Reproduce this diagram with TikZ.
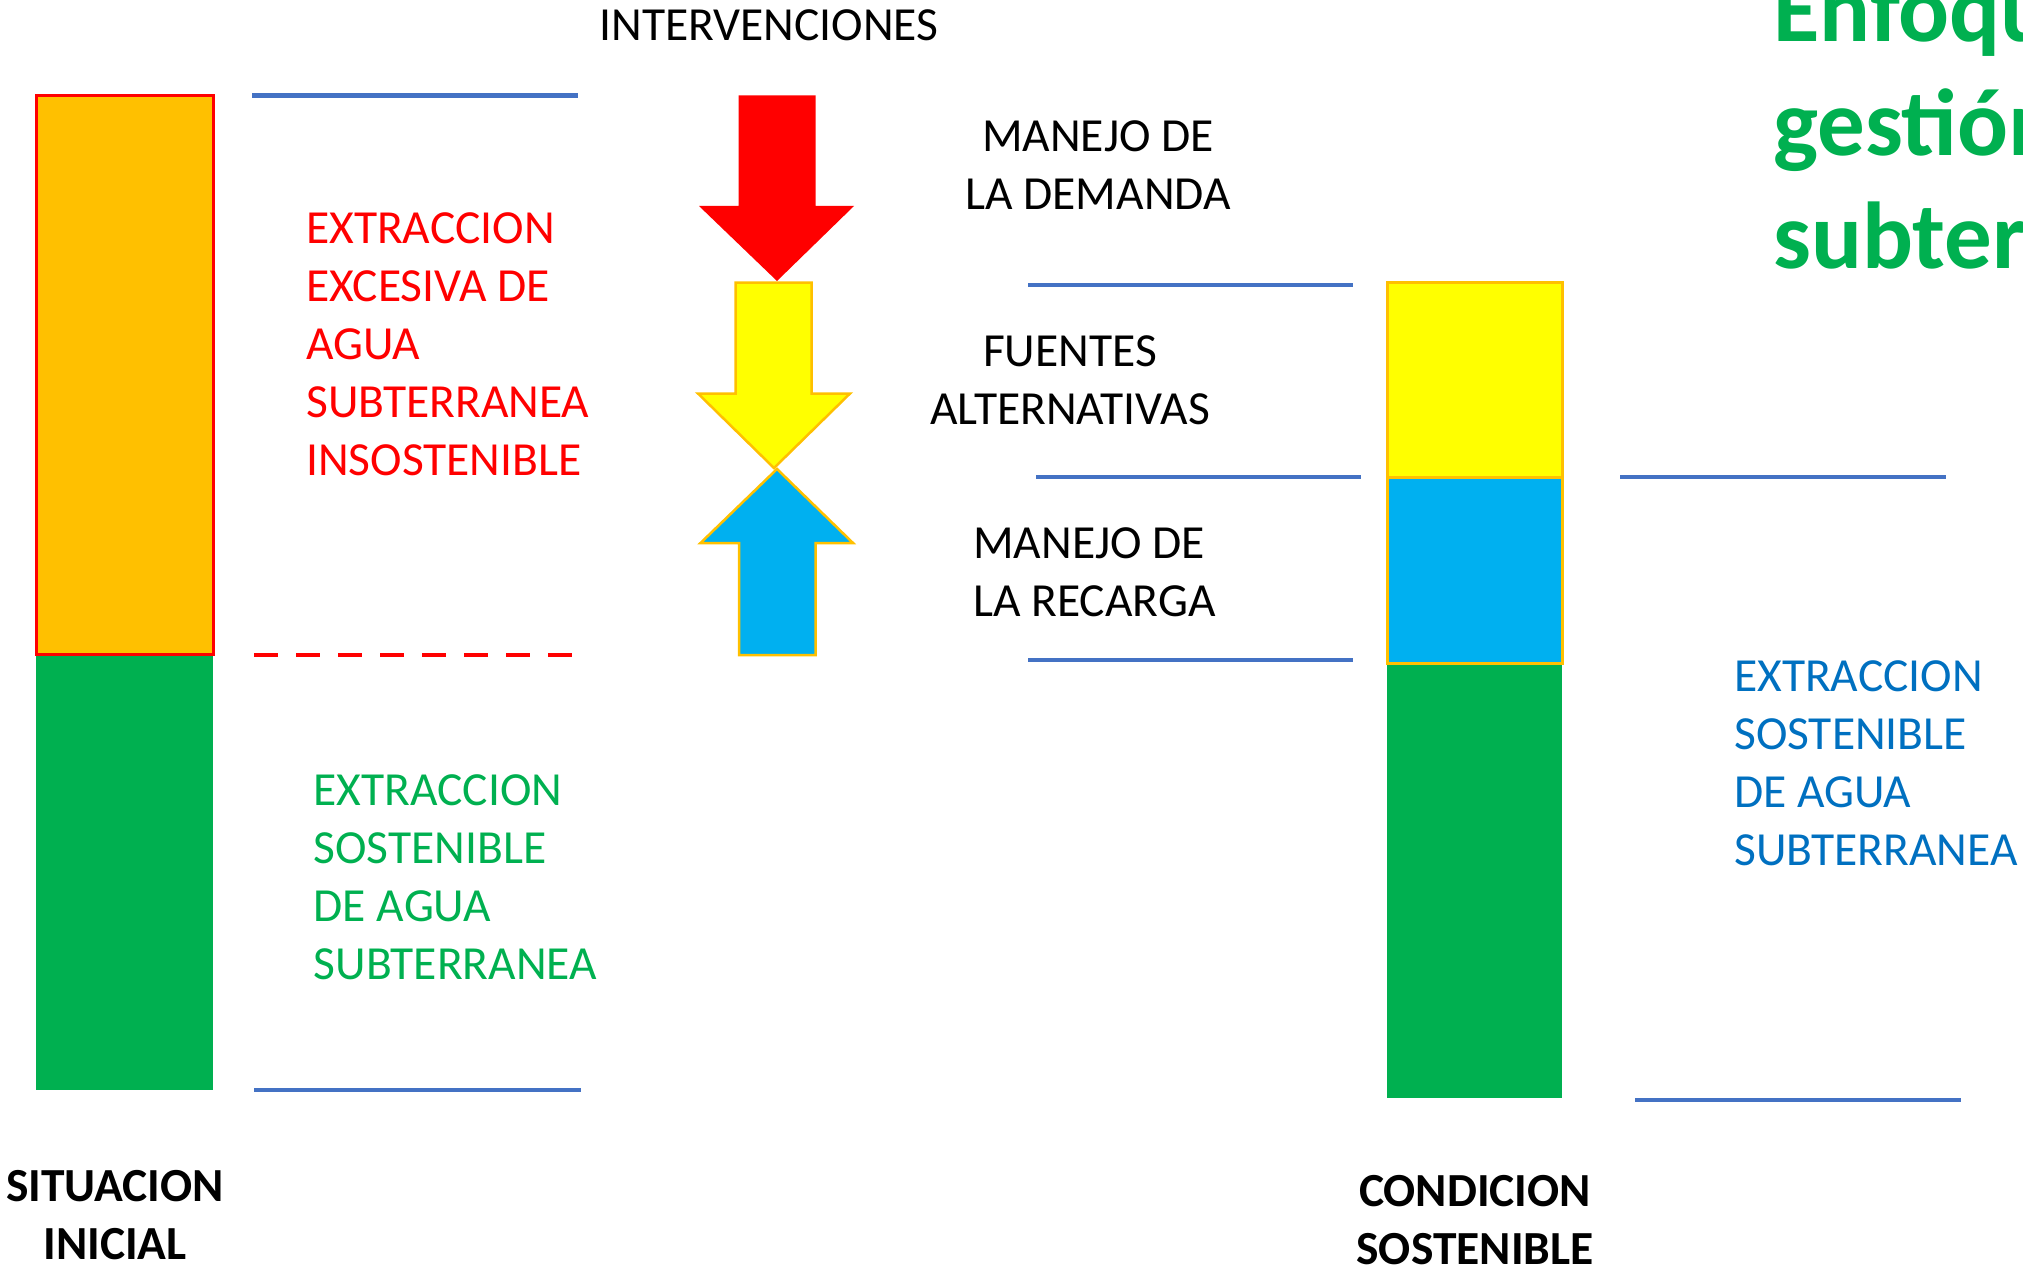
\documentclass[tikz,border=0pt]{standalone}
\usepackage{fontspec}
\setmainfont{Carlito}
\definecolor{cOrange}{HTML}{FFC000}
\definecolor{cGreen}{HTML}{00B050}
\definecolor{cBlueFill}{HTML}{00B0F0}
\definecolor{cYellow}{HTML}{FFFF00}
\definecolor{cRed}{HTML}{FF0000}
\definecolor{cLine}{HTML}{4472C4}
\definecolor{cBlueText}{HTML}{0070C0}
\tikzset{
  txt/.style={inner sep=0pt, font=\fontsize{47.5}{58}\selectfont},
  btxt/.style={txt, font=\fontsize{47.5}{58}\selectfont\bfseries},
  level/.style={draw=cLine, line width=4.5pt},
  seg/.style={line width=3pt},
}
\begin{document}
\begin{tikzpicture}[x=1pt,y=-1pt]
\useasboundingbox (0,0) rectangle (2023,1268);
\clip (0,0) rectangle (2023,1268);
% left bar
\fill[cGreen] (36,654) rectangle (213,1090);
\draw[seg, draw=cRed, fill=cOrange] (36,95.5) rectangle (213,654);
% right bar
\fill[cGreen] (1387,663) rectangle (1562,1098);
\draw[seg, draw=cOrange, fill=cYellow] (1387,282.5) rectangle (1562,477);
\draw[seg, draw=cOrange, fill=cBlueFill] (1387,477) rectangle (1562,663);
% level lines
\draw[level] (252,95.5) -- (578,95.5);
\draw[level] (254,1090) -- (581,1090);
\draw[draw=cRed, line width=4.5pt, dash pattern=on 24pt off 18pt] (254,655) -- (574,655);
\draw[level] (1028,285) -- (1353,285);
\draw[level] (1036,477) -- (1361,477);
\draw[level] (1028,660) -- (1353,660);
\draw[level] (1620,477) -- (1946,477);
\draw[level] (1635,1100) -- (1961,1100);
% arrows
\fill[cRed] (738.5,95.5) -- (815.5,95.5) -- (815.5,206) -- (854,206) -- (777,281) -- (699,206) -- (738.5,206) -- cycle;
\draw[line width=2.5pt, draw=cOrange, fill=cYellow, line join=miter] (735.5,282.5) -- (811.5,282.5) -- (811.5,393.5) -- (850,393.5) -- (774,468) -- (698,393.5) -- (735.5,393.5) -- cycle;
\draw[line width=2.5pt, draw=cOrange, fill=cBlueFill, line join=miter] (777,469) -- (853,543) -- (815.5,543) -- (815.5,655) -- (739,655) -- (739,543) -- (700.5,543) -- cycle;
% texts (base anchor = baseline of last line)
\node[txt, anchor=base] (interv) at (769,41) {INTERVENCIONES};
\node[txt, anchor=base west, align=left, text=cRed] (excess) at (306,475) {EXTRACCION\\EXCESIVA DE\\AGUA\\SUBTERRANEA\\INSOSTENIBLE};
\node[txt, anchor=base west, align=left, text=cGreen] (sostL) at (313.5,979) {EXTRACCION\\SOSTENIBLE\\DE AGUA\\SUBTERRANEA};
\node[txt, anchor=base west, align=left, text=cBlueText] (sostR) at (1734,865) {EXTRACCION\\SOSTENIBLE\\DE AGUA\\SUBTERRANEA};
\node[txt, anchor=base, align=center] (demanda) at (1098,209) {MANEJO DE\\LA DEMANDA};
\node[txt, anchor=base, align=center] (fuentes) at (1070,424) {FUENTES\\ALTERNATIVAS};
\node[txt, anchor=base west, align=left] (recarga) at (973,616.5) {MANEJO DE\\LA RECARGA};
\node[btxt, anchor=base, align=center] (sit) at (115,1259) {SITUACION\\INICIAL};
\node[btxt, anchor=base, align=center] (cond) at (1475,1264) {CONDICION\\SOSTENIBLE};
\node[inner sep=0pt, anchor=base west, align=left, text=cGreen, font=\fontsize{95}{113}\selectfont\bfseries] (title) at (1773,268) {Enfoque de\\gestión del agua\\subterránea};
\end{tikzpicture}
\end{document}
